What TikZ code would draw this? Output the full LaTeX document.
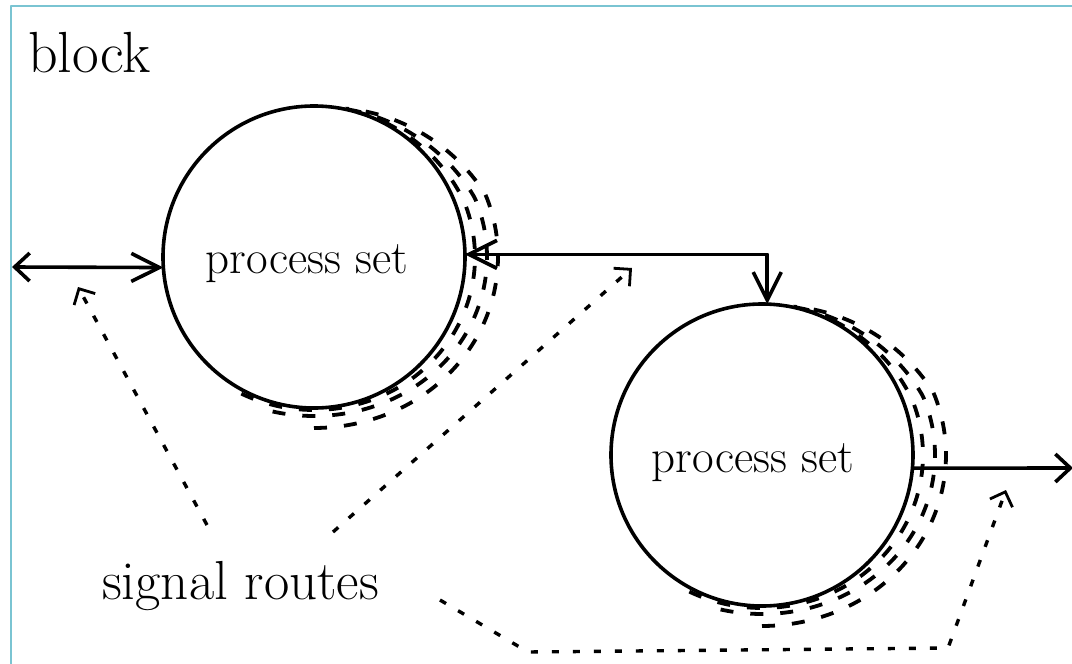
\documentclass[tikz,border=0pt]{standalone}
\usetikzlibrary{arrows.meta}
\definecolor{framecol}{RGB}{122,196,210}
\begin{document}
\begin{tikzpicture}[x=1pt,y=-1pt,line join=round,
  procset/.style={circle, draw, line width=3.6pt, minimum size=302pt, inner sep=0pt, outer sep=0pt},
  setlabel/.style={inner sep=0pt, anchor=base, font=\fontsize{47}{50}\selectfont},
  biglabel/.style={inner sep=0pt, anchor=base west, font=\fontsize{58}{60}\selectfont},
  channel/.style={line width=3.6pt},
  circtip/.tip={Straight Barb[length=28pt,width=28pt]},
  edgetip/.tip={Straight Barb[length=15pt,width=28pt]},
  dottip/.tip={Straight Barb[length=12pt,width=24pt,line width=2.8pt]},
  route/.style={line width=3.4pt, dash pattern=on 7pt off 14pt},
  routedash/.style={line width=3.8pt, dash pattern=on 13pt off 17pt},
  declare function={
    tap(\a)=min(1,(80-\a)/60);
    gin(\a)=(2+8*cos(\a)^2)*tap(\a);
    gmid(\a)=(8+14*cos(\a)^2)*tap(\a);
    gout(\a)=(20+13*cos(\a)^2)*tap(\a);
  }]
% canvas
\fill[white] (0,0) rectangle (1072,664);
\useasboundingbox (0,0) rectangle (1072,664);
\draw[framecol, line width=2.5pt] (11,664) -- (11,6) -- (1072,6);

% title
\node[biglabel] (blk) at (28,72) {block};

% the two process sets
\node[procset] (p1) at (314,257) {};
\node[procset] (p2) at (762,455) {};
\node[setlabel] (t1) at (307,273) {process set};
\node[setlabel] (t2) at (753,472) {process set};

% signal routes hugging each process set
\foreach \cx/\cy in {314/257, 762/455}{
  \draw[routedash] plot[domain=-118:80, samples=120]
    ({\cx+(151+gin(\x))*cos(\x)}, {\cy-(151+gin(\x))*sin(\x)});
  \draw[routedash] plot[domain=-105:80, samples=120]
    ({\cx+(151+gmid(\x))*cos(\x)}, {\cy-(151+gmid(\x))*sin(\x)});
  \draw[routedash] plot[domain=-90:78, samples=120]
    ({\cx+(151+gout(\x))*cos(\x)}, {\cy-(151+gout(\x))*sin(\x)});
}

% channels
\coordinate (lin) at (12,267);
\coordinate (rout) at (1073,468);
\draw[channel, edgetip-circtip] (lin) -- (p1.184);
\draw[channel, circtip-circtip] (p1.1) -| (p2.88);
\draw[channel, -edgetip] (p2.-5) -- (rout);

% caption and its pointers
\node[biglabel, font=\fontsize{55}{60}\selectfont] (sr) at (102,599) {signal routes};
\coordinate (s1) at (207,525);
\coordinate (e1) at (78,287);
\coordinate (s2) at (333,532);
\coordinate (e2) at (632,268);
\coordinate (s3) at (440,600);
\coordinate (k1) at (528,652);
\coordinate (k2) at (948,648);
\coordinate (e3) at (1006,490);
\draw[route, -dottip] (s1) -- (e1);
\draw[route, -dottip] (s2) -- (e2);
\draw[route, -dottip] (s3) -- (k1) -- (k2) -- (e3);
\end{tikzpicture}
\end{document}
